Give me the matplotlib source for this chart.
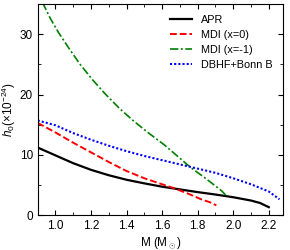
import numpy as np
import matplotlib
matplotlib.use('Agg')
import matplotlib.pyplot as plt
from matplotlib.ticker import MultipleLocator

plt.rcParams['font.family'] = ['Liberation Sans', 'DejaVu Sans']
plt.rcParams['mathtext.fontset'] = 'custom'
plt.rcParams['mathtext.rm'] = 'Liberation Sans'
plt.rcParams['mathtext.it'] = 'Liberation Sans:italic'

# APR
m_apr = [0.9, 1.0, 1.1, 1.2, 1.3, 1.4, 1.5, 1.6, 1.7, 1.8, 1.9, 2.0, 2.1, 2.15, 2.2]
h_apr = [11.2, 9.9, 8.6, 7.5, 6.6, 5.85, 5.25, 4.7, 4.25, 3.8, 3.4, 2.95, 2.4, 2.0, 1.3]

# MDI (x=0)
m_mdi0 = [0.9, 1.0, 1.1, 1.2, 1.3, 1.4, 1.5, 1.6, 1.667, 1.75, 1.82, 1.87, 1.905]
h_mdi0 = [15.3, 13.7, 12.0, 10.4, 8.8, 7.3, 6.1, 5.1, 4.45, 3.5, 2.6, 2.1, 1.6]

# MDI (x=-1)
m_mdi1 = [0.927, 0.97, 1.017, 1.08, 1.139, 1.21, 1.28, 1.36, 1.44, 1.52, 1.61,
          1.685, 1.76, 1.83, 1.892, 1.935, 1.967]
h_mdi1 = [35.3, 32.7, 30.3, 27.5, 25.0, 22.4, 20.1, 17.7, 15.6, 13.7, 11.7,
          9.8, 7.9, 6.4, 5.0, 4.0, 3.0]

# DBHF+Bonn B
m_dbhf = [0.9, 1.0, 1.1, 1.2, 1.3, 1.4, 1.5, 1.6, 1.7, 1.8, 1.9, 2.0, 2.1, 2.2, 2.26]
h_dbhf = [15.7, 14.9, 13.6, 12.5, 11.5, 10.6, 9.8, 9.1, 8.4, 7.7, 7.0, 6.1, 5.1, 3.9, 2.6]

fig = plt.figure(figsize=(2.9, 2.5), dpi=100)
ax = fig.add_axes([0.13, 0.14, 0.846, 0.843])

ax.plot(m_apr, h_apr, color='black', lw=1.6, label='APR')
ax.plot(m_mdi0, h_mdi0, color='red', lw=1.4, ls=(0, (3.5, 1.5)), label='MDI (x=0)')
ax.plot(m_mdi1, h_mdi1, color='green', lw=1.2, ls=(0, (5, 1.5, 1.2, 1.5)), label='MDI (x=-1)')
ax.plot(m_dbhf, h_dbhf, color='blue', lw=1.5, ls=(0, (1, 1)), label='DBHF+Bonn B')

ax.set_xlim(0.9, 2.28)
ax.set_ylim(0, 35)
ax.xaxis.set_major_locator(MultipleLocator(0.2))
ax.xaxis.set_minor_locator(MultipleLocator(0.1))
ax.yaxis.set_major_locator(MultipleLocator(10))
ax.yaxis.set_minor_locator(MultipleLocator(5))
ax.tick_params(which='both', direction='in', top=True, right=True, labelsize=8.5)
ax.tick_params(which='major', length=3.5)
ax.tick_params(which='minor', length=2)

ax.set_xlabel(r'M (M$_\odot$)', fontsize=8.5, labelpad=2)
ax.set_ylabel(r'$h_0$($\times$10$^{-24}$)', fontsize=8.5, labelpad=1)

ax.legend(loc='upper right', frameon=False, fontsize=7.8, handlelength=2.0,
          labelspacing=0.45, borderaxespad=0.6)

fig.savefig('out.png', dpi=100)
